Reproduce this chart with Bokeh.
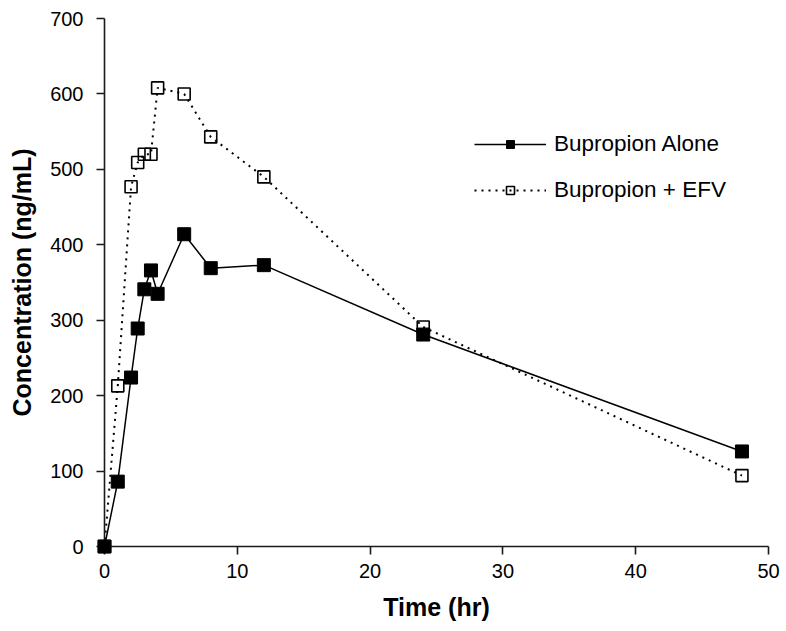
from bokeh.plotting import figure
from bokeh.models import ColumnDataSource, Range1d, FixedTicker, Legend, LegendItem
from bokeh.embed import file_html
from bokeh.resources import INLINE

# Data
times = [0, 1, 2, 2.5, 3, 3.5, 4, 6, 8, 12, 24, 48]
bupropion_alone = [0, 86, 224, 289, 341, 366, 335, 414, 369, 373, 281, 126]
bupropion_efv = [0, 213, 477, 509, 520, 520, 608, 600, 543, 490, 291, 94]
x_ticks = [0, 10, 20, 30, 40, 50]
y_ticks = [0, 100, 200, 300, 400, 500, 600, 700]

FONT = "Liberation Sans"

src_alone = ColumnDataSource(dict(t=times, c=bupropion_alone))
src_efv = ColumnDataSource(dict(t=times, c=bupropion_efv))

p = figure(width=786, height=631, output_backend="svg", toolbar_location=None,
           x_range=Range1d(0, 50), y_range=Range1d(0, 700),
           min_border_left=104, min_border_right=18, min_border_top=18, min_border_bottom=85)

p.outline_line_color = None
p.xgrid.visible = False
p.ygrid.visible = False
p.background_fill_color = "white"
p.border_fill_color = "white"

l_efv = p.line("t", "c", source=src_efv, line_color="black", line_width=2, line_dash="2 5")
s_efv = p.scatter("t", "c", source=src_efv, marker="square", size=12, fill_color=None,
                  line_color="black", line_width=1.6, level="overlay")
l_alone = p.line("t", "c", source=src_alone, line_color="black", line_width=1.5)
s_alone = p.scatter("t", "c", source=src_alone, marker="square", size=13, fill_color="black",
                    line_color="black", level="overlay")

for ax in (p.xaxis[0], p.yaxis[0]):
    ax.axis_line_color = "#1a1a1a"
    ax.axis_line_width = 1.6
    ax.major_tick_line_color = "#1a1a1a"
    ax.major_tick_line_width = 1.6
    ax.major_tick_out = 8
    ax.major_tick_in = 0
    ax.minor_tick_out = 0
    ax.minor_tick_in = 0
    ax.major_label_text_font = FONT
    ax.major_label_text_font_size = "20px"
    ax.major_label_text_color = "black"
    ax.axis_label_text_font = FONT
    ax.axis_label_text_font_size = "25px"
    ax.axis_label_text_font_style = "bold"
    ax.axis_label_text_color = "black"

p.xaxis[0].ticker = FixedTicker(ticks=x_ticks)
p.yaxis[0].ticker = FixedTicker(ticks=y_ticks)
p.xaxis[0].axis_label = "Time (hr)"
p.yaxis[0].axis_label = "Concentration (ng/mL)"
p.xaxis[0].major_label_standoff = 9
p.yaxis[0].major_label_standoff = 13
p.xaxis[0].axis_label_standoff = 12
p.yaxis[0].axis_label_standoff = 11

legend = Legend(items=[
    LegendItem(label="Bupropion Alone", renderers=[l_alone, s_alone]),
    LegendItem(label="Bupropion + EFV", renderers=[l_efv, s_efv]),
], location=(370, 343))
legend.glyph_width = 72
legend.glyph_height = 20
legend.label_height = 20
legend.spacing = 20
legend.padding = 0
legend.margin = 0
legend.label_standoff = 8
legend.label_text_font = FONT
legend.label_text_font_size = "22.5px"
legend.label_text_color = "black"
legend.border_line_color = None
legend.background_fill_alpha = 0
p.add_layout(legend)

open("out.html", "w").write(file_html(p, INLINE))
